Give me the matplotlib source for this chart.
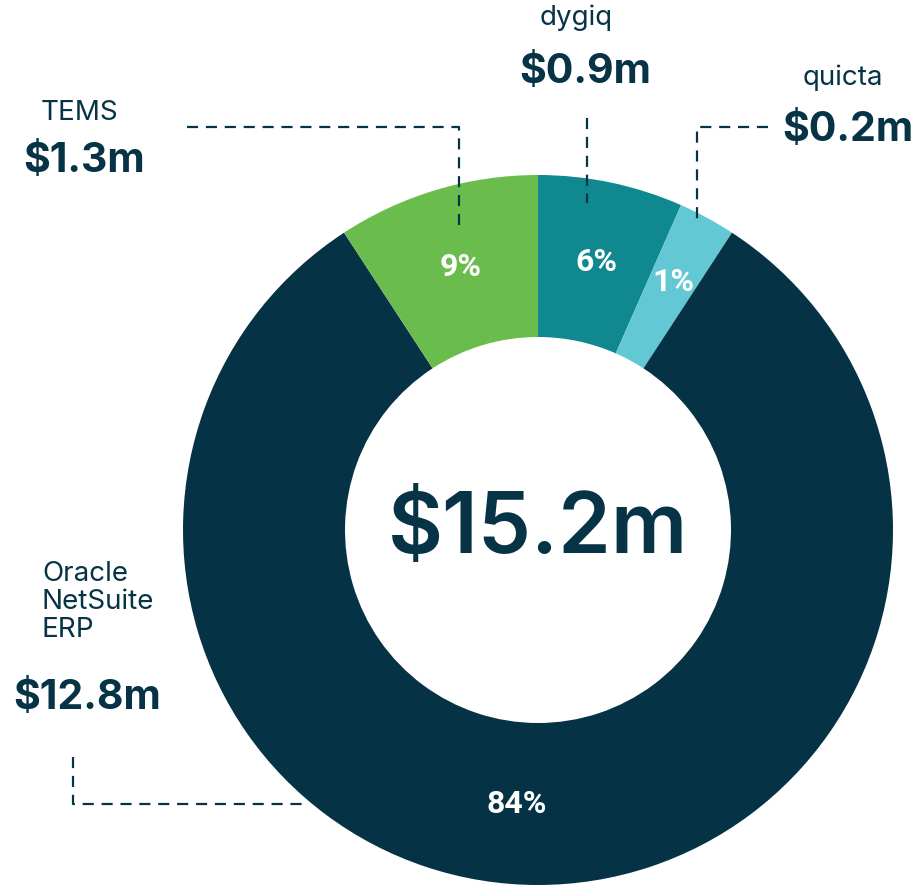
import matplotlib
matplotlib.use('Agg')
import matplotlib.pyplot as plt
import numpy as np

W, H = 917, 885

# data
names = ['dygiq', 'quicta', 'Oracle\nNetSuite\nERP', 'TEMS']
amounts = ['$0.9m', '$0.2m', '$12.8m', '$1.3m']
pct_labels = ['6%', '1%', '84%', '9%']
shares = [6.6, 2.6, 81.6, 9.2]   # drawn wedge sizes (% of ring)
total_label = '$15.2m'

colors = ['#10888f', '#62c8d3', '#063245', '#6abd4d']
navy = '#063446'

fig = plt.figure(figsize=(W / 100, H / 100), dpi=100)
ax = fig.add_axes([0, 0, 1, 1])

def Y(y):
    # pixel row from top -> data y
    return H - y

cx, cy, R = 538, Y(530), 355
ring = 162

wedges, _ = ax.pie(shares, colors=colors, startangle=90, counterclock=False,
                   center=(cx, cy), radius=R, frame=True,
                   wedgeprops=dict(width=ring, linewidth=0))
ax.set_xlim(0, W)
ax.set_ylim(0, H)
ax.axis('off')

# percent labels in the middle of each wedge (small nudges)
rmid = R - ring / 2
offs = [(2, 0), (5, -7), (-21, 0), (1, 0)]
for w, lab, (dx, dy) in zip(wedges, pct_labels, offs):
    a = np.deg2rad((w.theta1 + w.theta2) / 2)
    ax.text(cx + rmid * np.cos(a) + dx, cy + rmid * np.sin(a) - dy, lab,
            ha='center', va='center', color='white', fontsize=23,
            fontweight='bold', family='Roboto')

ax.text(cx, cy, total_label, ha='center', va='center', color=navy,
        fontsize=61, fontweight='semibold', family='Inter')

# outside labels
lab_pos = [(576, 18), (843, 78), (42, 602), (79, 113)]
amt_pos = [(585, 72), (848, 130), (13, 698), (84, 161)]
for i in range(4):
    ha = 'left' if i == 2 else 'center'
    ax.text(lab_pos[i][0], Y(lab_pos[i][1]), names[i], ha=ha, va='center',
            color=navy, fontsize=20, family='Inter', linespacing=1.1)
    ax.text(amt_pos[i][0], Y(amt_pos[i][1]), amounts[i], ha=ha, va='center',
            color=navy, fontsize=29.5, fontweight='bold', family='Inter')

# dashed leader lines
ls = dict(color=navy, lw=1.6, dashes=(5, 3.5))
ax.plot([187, 459, 459], [Y(127), Y(127), Y(228)], **ls)
ax.plot([587, 587], [Y(118), Y(203)], **ls)
ax.plot([768, 697, 697], [Y(127), Y(127), Y(226)], **ls)
ax.plot([73, 73, 307], [Y(757), Y(804), Y(804)], **ls)

fig.savefig('out.png', dpi=100)
